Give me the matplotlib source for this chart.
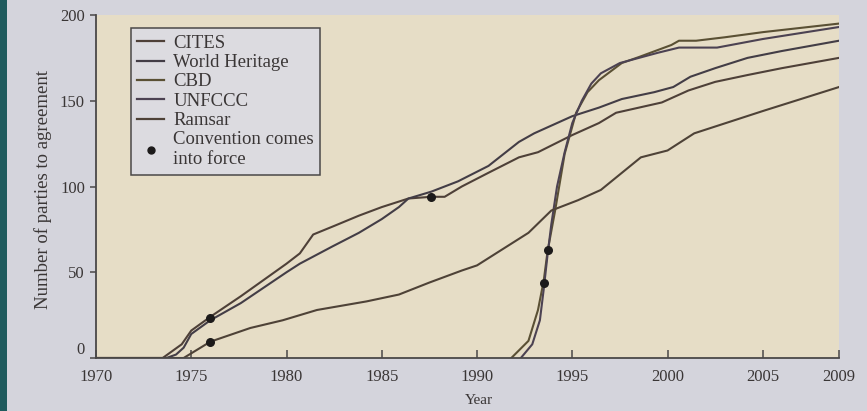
import matplotlib
matplotlib.use("Agg")
import matplotlib.pyplot as plt
from matplotlib.lines import Line2D
from matplotlib.patches import Rectangle

# Data (year, number of parties)
cites_years = [1970, 1973.5, 1974.5, 1975, 1976, 1977.6, 1980, 1980.7, 1981.4, 1982.5, 1983.8, 1985,
               1986.4, 1987.6, 1988.3, 1989.2, 1990.6, 1992.2, 1993.2, 1995, 1996.4, 1997.3, 1998.5,
               1999.7, 2001.1, 2002.5, 2004.2, 2006, 2009]
cites_vals = [0, 0, 8, 16, 24, 36, 55, 61, 72, 77, 83, 88,
              93, 94, 94, 100, 108, 117, 120, 130, 137, 143, 146,
              149, 156, 161, 165, 169, 175]

wh_years = [1970, 1973.7, 1974.2, 1974.6, 1975, 1976, 1977.6, 1980, 1980.7, 1982.4, 1983.8, 1985,
            1985.9, 1986.4, 1987.6, 1989, 1990.6, 1992.2, 1993, 1994, 1995, 1996.4, 1997.6, 1999.3,
            2000.3, 2001.2, 2002.5, 2004.2, 2006, 2009]
wh_vals = [0, 0, 2, 6, 14, 22, 32, 50, 55, 65, 73, 81,
           88, 93, 97, 103, 112, 126, 131, 136, 141, 146, 151, 155,
           158, 164, 169, 175, 179, 185]

cbd_years = [1991.8, 1992.7, 1993.2, 1993.5, 1993.7, 1994.1, 1994.6, 1995.2, 1995.8, 1996.4,
             1997.6, 1998.5, 2000.2, 2000.6, 2001.5, 2003, 2005, 2007, 2009]
cbd_vals = [0, 10, 28, 45, 62, 86, 119, 143, 155, 162,
            172, 175.5, 182.5, 185, 185, 187, 190, 192.5, 195]

unfccc_years = [1992.3, 1992.9, 1993.3, 1993.5, 1993.7, 1993.9, 1994.2, 1994.6, 1995, 1995.5,
                1996, 1996.5, 1997.5, 1998.5, 1999.5, 2000.6, 2002.6, 2005, 2007, 2009]
unfccc_vals = [0, 8, 22, 40, 60, 78, 100, 120, 137, 150,
               160, 166, 172, 175, 178, 181, 181, 186, 189.5, 193]

ramsar_years = [1970, 1974.6, 1976, 1978.1, 1979.8, 1981.6, 1984.2, 1985.9, 1987.5, 1989.2, 1990,
                1992.7, 1993.9, 1995.3, 1996.5, 1998.6, 2000, 2001.4, 2005, 2009]
ramsar_vals = [0, 0, 9.5, 17.5, 22, 28, 33, 37, 44, 51, 54,
               73, 86, 92, 98, 117, 121, 131, 144, 158]

force_years = [1976.0, 1976.0, 1987.6, 1993.5, 1993.7]
force_vals = [23.5, 9.5, 94, 44, 63]

series_names = ["CITES", "World Heritage", "CBD", "UNFCCC", "Ramsar"]
series_colors = ["#4e4038", "#433d46", "#5a5034", "#4c4252", "#4e4237"]

serif = ["Liberation Serif", "DejaVu Serif"]
text_color = "#3a3636"

fig = plt.figure(figsize=(8.67, 4.11), dpi=100)
fig.patch.set_facecolor("#d4d4dc")
fig.patches.append(Rectangle((0, 0), 7 / 867, 1, transform=fig.transFigure,
                             facecolor="#1f5b5e", edgecolor="none"))

ax = fig.add_axes([96 / 867, 53 / 411, 743 / 867, 343 / 411])
ax.set_facecolor("#e6ddc6")

all_series = [(cites_years, cites_vals), (wh_years, wh_vals), (cbd_years, cbd_vals),
              (unfccc_years, unfccc_vals), (ramsar_years, ramsar_vals)]
for (xs, ys), name, col in zip(all_series, series_names, series_colors):
    ax.plot(xs, ys, color=col, lw=1.5, label=name)

ax.scatter(force_years, force_vals, s=30, color="#1c1a1a", zorder=5)

ax.set_xlim(1970, 2009)
ax.set_ylim(0, 200)
ax.set_xticks([1970, 1975, 1980, 1985, 1990, 1995, 2000, 2005, 2009])
ax.set_yticks([0, 50, 100, 150, 200])

for s in ["top", "right"]:
    ax.spines[s].set_visible(False)
for s in ["left", "bottom"]:
    ax.spines[s].set_color("#4a4848")
    ax.spines[s].set_linewidth(1.3)

ax.tick_params(axis="x", direction="in", length=6, width=1.1, color="#4a4848", pad=8,
               labelsize=12, labelcolor=text_color)
ax.tick_params(axis="y", direction="out", length=4, width=1.1, color="#4a4848", pad=4,
               labelsize=12, labelcolor=text_color)
for lab in ax.get_xticklabels() + ax.get_yticklabels():
    lab.set_family(serif)
ax.get_yticklabels()[0].set_va("bottom")

ax.set_ylabel("Number of parties to agreement", family=serif, fontsize=13.5, color=text_color)
ax.yaxis.set_label_coords(-0.059, 0.49)
ax.set_xlabel("Year", family=serif, fontsize=11, color=text_color)
ax.xaxis.set_label_coords((479 - 96) / 743, -0.105)

handles = [Line2D([], [], color=c, lw=1.6) for c in series_colors]
handles.append(Line2D([], [], ls="none", marker="o", ms=5, color="#1c1a1a"))
labels = series_names + ["Convention comes\ninto force"]
leg = ax.legend(handles, labels, loc="upper left", bbox_to_anchor=(0.047, 0.962),
                borderaxespad=0, frameon=True, fancybox=False, framealpha=1,
                facecolor="#dcdbe0", edgecolor="#4a4848", handlelength=1.4,
                handletextpad=0.5, labelspacing=0.12, borderpad=0.35,
                prop={"family": serif, "size": 13.5})
leg.get_frame().set_linewidth(1.1)
for t in leg.get_texts():
    t.set_color(text_color)

plt.savefig("out.png", dpi=100, facecolor=fig.get_facecolor())
